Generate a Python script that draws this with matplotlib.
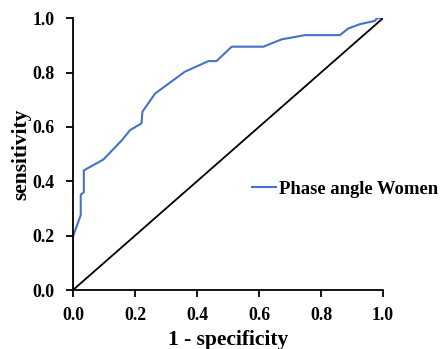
import matplotlib
matplotlib.use("Agg")
import matplotlib.pyplot as plt

plt.rcParams['font.family'] = ['Liberation Serif', 'DejaVu Serif']
plt.rcParams['font.weight'] = 'bold'

# ROC curve
fpr = [0.0, 0.0, 0.025, 0.025, 0.035, 0.035, 0.098, 0.157, 0.184, 0.221, 0.224,
       0.265, 0.361, 0.437, 0.463, 0.512, 0.614, 0.673, 0.748, 0.861, 0.888,
       0.926, 0.974, 0.98, 0.996, 1.0]
tpr = [0.0, 0.196, 0.276, 0.35, 0.36, 0.44, 0.48, 0.55, 0.588, 0.613, 0.656,
       0.723, 0.803, 0.842, 0.842, 0.895, 0.895, 0.922, 0.9375, 0.9375, 0.962,
       0.978, 0.99, 1.0, 1.0, 1.0]
ref = [0.0, 1.0]
ticks = [0.0, 0.2, 0.4, 0.6, 0.8, 1.0]
series_name = "Phase angle Women"

fig = plt.figure(figsize=(4.41, 3.49), dpi=100, facecolor='white')
ax = fig.add_axes([0.1655, 0.169, 0.703, 0.779])

ax.plot(fpr, tpr, color='#4472C4', lw=1.5, label=series_name)
ax.plot(ref, ref, color='black', lw=1.3)

ax.set_xlim(0, 1)
ax.set_ylim(0, 1)
ax.set_xticks(ticks)
ax.set_yticks(ticks)
ax.set_xticklabels(["%.1f" % t for t in ticks])
ax.set_yticklabels(["%.1f" % t for t in ticks])
ax.tick_params(direction='out', length=5, width=1.3, labelsize=12.8)
ax.tick_params(axis='x', pad=7)
ax.tick_params(axis='y', pad=8)
for s in ['top', 'right']:
    ax.spines[s].set_visible(False)
for s in ['left', 'bottom']:
    ax.spines[s].set_linewidth(1.3)

ax.set_xlabel("1 - specificity", fontsize=15.5, fontweight='bold', labelpad=4.5)
ax.set_ylabel("sensitivity", fontsize=15.5, fontweight='bold', labelpad=1)

ax.legend(loc='center left', bbox_to_anchor=(0.577, 0.37), frameon=False,
          fontsize=13.4, handlelength=1.3, handletextpad=0.16,
          borderpad=0, borderaxespad=0)

fig.savefig("out.png", dpi=100)
